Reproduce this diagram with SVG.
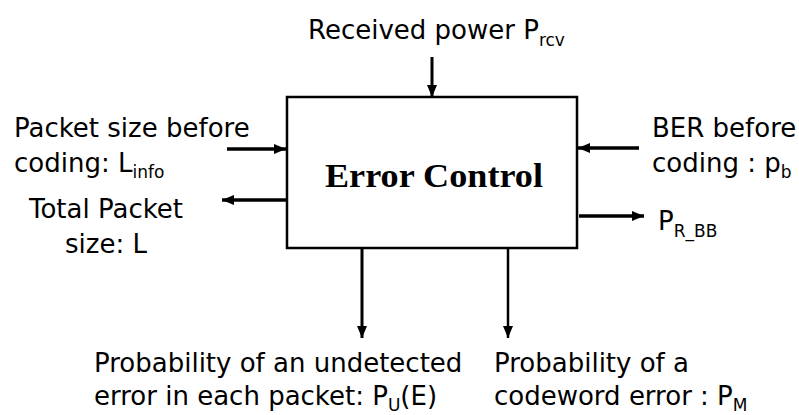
<svg xmlns="http://www.w3.org/2000/svg" width="799" height="415" viewBox="0 0 799 415">
<defs>
<style>
.t{font-family:"DejaVu Sans","Liberation Sans",sans-serif;font-size:26px;fill:#000}
.s{font-size:17px}
.box{fill:#fff;stroke:#000;stroke-width:2.5}
.c{stroke:#000;fill:none}
</style>
<marker id="ah" viewBox="0 0 12 10" refX="12" refY="5" markerWidth="12" markerHeight="10" markerUnits="userSpaceOnUse" orient="auto">
<path d="M0,0 L12,5 L0,10 z" fill="#000"/>
</marker>
</defs>
<rect width="799" height="415" fill="#fff"/>
<g id="connectors">
<line class="c" x1="432" y1="57" x2="432" y2="97" stroke-width="3" marker-end="url(#ah)"/>
<line class="c" x1="227" y1="149" x2="286" y2="149" stroke-width="3.5" marker-end="url(#ah)"/>
<line class="c" x1="286" y1="200" x2="222" y2="200" stroke-width="3.5" marker-end="url(#ah)"/>
<line class="c" x1="639" y1="148" x2="578" y2="148" stroke-width="3.5" marker-end="url(#ah)"/>
<line class="c" x1="579" y1="216" x2="644" y2="216" stroke-width="3.5" marker-end="url(#ah)"/>
<line class="c" x1="362" y1="248" x2="362" y2="338" stroke-width="3" marker-end="url(#ah)"/>
<line class="c" x1="508" y1="248" x2="508" y2="338" stroke-width="2.5" marker-end="url(#ah)"/>
</g>
<g id="error-control">
<rect class="box" x="287" y="97" width="290" height="151"/>
<text x="434" y="187" text-anchor="middle" font-family="Liberation Serif,serif" font-size="33" font-weight="bold" textLength="218" lengthAdjust="spacingAndGlyphs" fill="#000">Error Control</text>
</g>
<g id="received-power">
<text class="t" x="308" y="39" font-size="24.5">Received power P<tspan class="s" dy="7">rcv</tspan></text>
</g>
<g id="packet-size-before">
<text class="t" x="14" y="137">Packet size before</text>
<text class="t" x="14" y="172">coding: L<tspan class="s" dy="6">info</tspan></text>
</g>
<g id="total-packet">
<text class="t" x="106" y="218" text-anchor="middle">Total Packet</text>
<text class="t" x="106" y="253" text-anchor="middle">size: L</text>
</g>
<g id="ber-before">
<text class="t" x="652" y="137">BER before</text>
<text class="t" x="652" y="172">coding : p<tspan class="s" dy="6">b</tspan></text>
</g>
<g id="p-r-bb">
<text class="t" x="658" y="230">P<tspan class="s" dy="7">R_BB</tspan></text>
</g>
<g id="prob-undetected">
<text class="t" x="94" y="372">Probability of an undetected</text>
<text class="t" x="94" y="405">error in each packet: P<tspan class="s" dy="6">U</tspan><tspan dy="-6">(E)</tspan></text>
</g>
<g id="prob-codeword">
<text class="t" x="494" y="372">Probability of a</text>
<text class="t" x="494" y="405">codeword error : P<tspan class="s" dy="6">M</tspan></text>
</g>
</svg>
